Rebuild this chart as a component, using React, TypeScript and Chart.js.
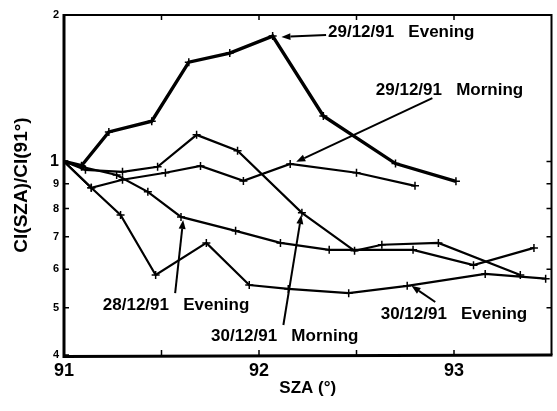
import React, { useEffect, useRef } from "react";
import { Chart, registerables } from "chart.js";

Chart.register(...registerables);

const FONT = "'Liberation Sans', Arial, Helvetica, sans-serif";

// Axis ticks
const xTickValues = [91, 92, 93];
const xMinorTicks = [91.5, 92, 92.5, 93];
const yTickValues = [0.4, 0.5, 0.6, 0.7, 0.8, 0.9, 1, 2];
const yTickLabels = ["4", "5", "6", "7", "8", "9", "1", "2"];

// 29/12/91 Evening (thick)
const eve2912X = [91.0, 91.09, 91.23, 91.45, 91.64, 91.85, 92.07, 92.33, 92.7, 93.01];
const eve2912Y = [1.0, 0.98, 1.15, 1.21, 1.6, 1.67, 1.81, 1.24, 0.99, 0.91];

// 29/12/91 Morning
const mor2912X = [91.0, 91.14, 91.3, 91.52, 91.7, 91.92, 92.16, 92.5, 92.8];
const mor2912Y = [1.0, 0.883, 0.917, 0.948, 0.979, 0.912, 0.988, 0.948, 0.891];

// 30/12/91 Morning
const mor3012X = [91.0, 91.11, 91.3, 91.48, 91.68, 91.89, 92.22, 92.49, 92.63, 92.92, 93.34];
const mor3012Y = [1.0, 0.961, 0.952, 0.975, 1.134, 1.052, 0.784, 0.655, 0.674, 0.68, 0.584];

// 28/12/91 Evening
const eve2812X = [91.0, 91.09, 91.27, 91.43, 91.6, 91.88, 92.11, 92.36, 92.79, 93.1, 93.41];
const eve2812Y = [1.0, 0.975, 0.938, 0.866, 0.769, 0.72, 0.68, 0.658, 0.658, 0.612, 0.664];

// 30/12/91 Evening
const eve3012X = [91.0, 91.14, 91.29, 91.47, 91.73, 91.95, 92.15, 92.46, 92.76, 93.16, 93.47];
const eve3012Y = [1.0, 0.883, 0.776, 0.584, 0.68, 0.557, 0.547, 0.536, 0.555, 0.587, 0.574];

// Annotation labels (data coordinates of left/baseline)
const labelTexts = ["29/12/91   Evening", "29/12/91   Morning", "28/12/91   Evening", "30/12/91   Morning", "30/12/91   Evening"];
const labelX = [92.354, 92.599, 91.199, 91.754, 92.624];
const labelY = [1.802, 1.369, 0.495, 0.428, 0.474];

// Annotation arrows (tail -> head, data coordinates)
const arrowTailX = [92.344, 92.889, 91.57, 92.125, 92.904];
const arrowTailY = [1.819, 1.35, 0.536, 0.461, 0.514];
const arrowHeadX = [92.115, 92.191, 91.611, 92.217, 92.782];
const arrowHeadY = [1.802, 0.998, 0.758, 0.776, 0.555];

const toPts = (xs: number[], ys: number[]) => xs.map((x, i) => ({ x, y: ys[i] }));

const annotationPlugin = {
  id: "frameAndNotes",
  afterDraw(chart: any) {
    const { ctx, chartArea } = chart;
    const xs = chart.scales.x;
    const ys = chart.scales.y;
    const { left, right, top, bottom } = chartArea;
    ctx.save();
    ctx.strokeStyle = "#000";
    ctx.fillStyle = "#000";
    ctx.lineCap = "butt";
    // frame
    ctx.lineWidth = 3;
    ctx.beginPath();
    ctx.moveTo(left, top - 1);
    ctx.lineTo(left, bottom + 1.5);
    ctx.lineTo(right + 1, bottom);
    ctx.stroke();
    ctx.lineWidth = 2;
    ctx.beginPath();
    ctx.moveTo(left, top);
    ctx.lineTo(right, top);
    ctx.lineTo(right, bottom);
    ctx.stroke();
    // ticks
    ctx.lineWidth = 1.5;
    const tl = 5;
    xMinorTicks.forEach((v) => {
      const px = xs.getPixelForValue(v);
      ctx.beginPath();
      ctx.moveTo(px, bottom);
      ctx.lineTo(px, bottom - tl);
      ctx.moveTo(px, top);
      ctx.lineTo(px, top + tl);
      ctx.stroke();
    });
    yTickValues.forEach((v) => {
      const py = ys.getPixelForValue(v);
      ctx.beginPath();
      ctx.moveTo(left, py);
      ctx.lineTo(left + tl, py);
      ctx.moveTo(right, py);
      ctx.lineTo(right - tl, py);
      ctx.stroke();
    });
    // arrows
    ctx.lineWidth = 2;
    arrowTailX.forEach((_, i) => {
      const x1 = xs.getPixelForValue(arrowTailX[i]);
      const y1 = ys.getPixelForValue(arrowTailY[i]);
      const x2 = xs.getPixelForValue(arrowHeadX[i]);
      const y2 = ys.getPixelForValue(arrowHeadY[i]);
      const ang = Math.atan2(y2 - y1, x2 - x1);
      const hl = 9;
      const hw = 3.5;
      const bx = x2 - hl * Math.cos(ang);
      const by = y2 - hl * Math.sin(ang);
      ctx.beginPath();
      ctx.moveTo(x1, y1);
      ctx.lineTo(bx, by);
      ctx.stroke();
      ctx.beginPath();
      ctx.moveTo(x2, y2);
      ctx.lineTo(bx - hw * Math.sin(ang), by + hw * Math.cos(ang));
      ctx.lineTo(bx + hw * Math.sin(ang), by - hw * Math.cos(ang));
      ctx.closePath();
      ctx.fill();
    });
    // labels
    ctx.font = `bold 17px ${FONT}`;
    ctx.textAlign = "left";
    ctx.textBaseline = "alphabetic";
    labelTexts.forEach((t, i) => {
      ctx.fillText(t, xs.getPixelForValue(labelX[i]), ys.getPixelForValue(labelY[i]));
    });
    ctx.restore();
  },
};

function ChartView() {
  const ref = useRef<HTMLCanvasElement | null>(null);
  useEffect(() => {
    if (!ref.current) return;
    const mk = (xs: number[], ys: number[], w: number) => ({
      data: toPts(xs, ys),
      borderColor: "#000",
      backgroundColor: "#000",
      borderWidth: w,
      pointStyle: "cross",
      pointRadius: 4,
      pointBorderWidth: 1.5,
      pointBorderColor: "#000",
      tension: 0,
      fill: false,
    });
    const chart = new Chart(ref.current, {
      type: "line",
      data: {
        datasets: [
          mk(eve2912X, eve2912Y, 3.4),
          mk(mor2912X, mor2912Y, 2.2),
          mk(mor3012X, mor3012Y, 2.2),
          mk(eve2812X, eve2812Y, 2.2),
          mk(eve3012X, eve3012Y, 2.2),
        ] as any,
      },
      options: {
        animation: false,
        responsive: false,
        maintainAspectRatio: false,
        layout: { padding: { top: 15, right: 2, left: 0, bottom: 0 } },
        plugins: { legend: { display: false }, tooltip: { enabled: false } },
        scales: {
          x: {
            type: "linear",
            min: 91,
            max: 93.5,
            afterFit: (s: any) => {
              s.height = 56;
            },
            afterBuildTicks: (s: any) => {
              s.ticks = xTickValues.map((v) => ({ value: v }));
            },
            grid: { display: false, drawTicks: false },
            border: { display: false },
            ticks: {
              color: "#000",
              padding: 5,
              maxRotation: 0,
              font: { family: FONT, size: 18, weight: "bold" },
              callback: (v: any) => String(v),
            },
            title: {
              display: true,
              text: "SZA (°)",
              color: "#000",
              font: { family: FONT, size: 17, weight: "bold" },
              padding: { top: 0, bottom: 12 },
            },
          },
          y: {
            type: "logarithmic",
            min: 0.4,
            max: 2,
            afterFit: (s: any) => {
              s.width = 64;
            },
            afterBuildTicks: (s: any) => {
              s.ticks = yTickValues.map((v) => ({ value: v }));
            },
            grid: { display: false, drawTicks: false },
            border: { display: false },
            ticks: {
              color: "#000",
              padding: 5,
              font: (c: any) => ({
                family: FONT,
                weight: "bold",
                size: c.tick && c.tick.value === 1 ? 16 : 11,
              }),
              callback: (v: any) => {
                const i = yTickValues.findIndex((t) => Math.abs(t - Number(v)) < 1e-9);
                return i >= 0 ? yTickLabels[i] : "";
              },
            },
            title: {
              display: true,
              text: "CI(SZA)/CI(91°)",
              color: "#000",
              font: { family: FONT, size: 19, weight: "bold" },
              padding: { top: 10, bottom: 0 },
            },
          },
        },
      } as any,
      plugins: [annotationPlugin],
    });
    return () => chart.destroy();
  }, []);
  return <canvas ref={ref} width={557} height={411} style={{ display: "block" }} />;
}

export default function App() {
  return (
    <div style={{ position: "absolute", left: 0, top: 0, width: 557, height: 411, background: "#fff" }}>
      <ChartView />
    </div>
  );
}
